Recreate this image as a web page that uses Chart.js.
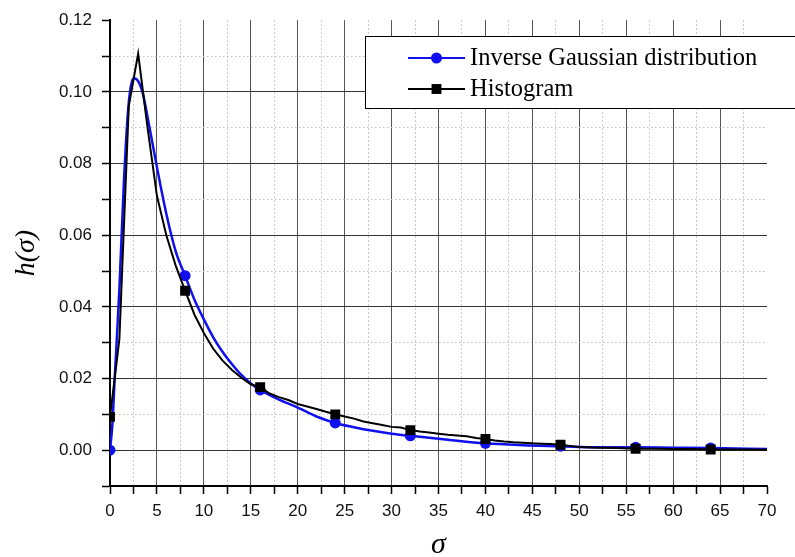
<!DOCTYPE html>
<html>
<head>
<meta charset="utf-8">
<script src="https://cdn.jsdelivr.net/npm/chart.js@4"></script>
<style>
  html, body { margin: 0; padding: 0; background: #fff; }
  #wrap { width: 795px; height: 557px; }
</style>
</head>
<body>
<div id="wrap"><canvas id="chart" width="795" height="557"></canvas></div>
<script>
// Inverse Gaussian fit (smooth curve)
const blueX = [0, 0.25, 0.5, 1, 1.5, 2, 2.5, 3, 3.5, 4, 5, 6, 7, 8, 9, 10, 11, 12, 13, 14,
  15, 16, 18, 20, 22, 24, 26, 28, 30, 32, 36, 40, 44, 48, 52, 56, 60, 64, 70];
const blueY = [0, 0.007, 0.02, 0.045, 0.076, 0.097, 0.1038, 0.103, 0.0995, 0.093, 0.079, 0.066, 0.0555, 0.0487, 0.042, 0.0365, 0.0315, 0.0274, 0.024, 0.021,
  0.0186, 0.0168, 0.0141, 0.0119, 0.0094, 0.0076, 0.0064, 0.0054, 0.0046, 0.0040, 0.0029, 0.0019, 0.0014, 0.0011, 0.0008, 0.0008, 0.0007, 0.0006, 0.0003];

// Histogram (polyline)
const blackX = [0, 1, 2, 3, 4, 5, 6, 7, 8, 9, 10, 11, 12, 13, 14, 15, 16, 17, 18, 19,
  20, 21, 22, 23, 24, 25, 26, 27, 28, 29, 30, 31, 32, 33, 34, 35, 36, 37, 38, 39,
  40, 41, 42, 43, 44, 45, 46, 47, 48, 49, 50, 52, 54, 56, 58, 60, 62, 64, 67, 70];
const blackY = [0.0093, 0.031, 0.096, 0.1107, 0.090, 0.071, 0.060, 0.0515, 0.0445, 0.0378, 0.0327, 0.0283, 0.0250, 0.0224, 0.0202, 0.0184, 0.0176, 0.0158, 0.0148, 0.0140,
  0.0129, 0.0122, 0.0115, 0.0107, 0.0100, 0.0094, 0.0088, 0.0080, 0.0075, 0.0070, 0.0065, 0.0063, 0.0056, 0.0052, 0.0049, 0.0046, 0.0043, 0.0041, 0.0039, 0.0034,
  0.0031, 0.0027, 0.0024, 0.0022, 0.0021, 0.0019, 0.0018, 0.0017, 0.0015, 0.0012, 0.0009, 0.0007, 0.0006, 0.0004, 0.0004, 0.0003, 0.0003, 0.0002, 0.0002, 0.0001];

// sigma values that carry a symbol
const markerX = [0, 8, 16, 24, 32, 40, 48, 56, 64];

const seriesNames = ["Inverse Gaussian distribution", "Histogram"];
const xTitle = "σ";
const yTitle = "h(σ)";

const BLUE = "#1010ee";
const BLACK = "#000000";

const toPoints = (xs, ys) => xs.map((x, i) => ({ x: x, y: ys[i] }));

// helpers for major / minor grid
const isMajorY = (v) => Math.round(v * 100) % 2 === 0;
const isMajorX = (v) => Math.round(v * 10) % 50 === 0;

// Legend drawn as a framed box like the original
const legendBox = {
  id: "legendBox",
  afterDraw(chart) {
    const c = chart.ctx;
    const left = 365, top = 36, h = 72;
    c.save();
    c.fillStyle = "#fff";
    c.fillRect(left, top, 800 - left, h);
    c.strokeStyle = "#000";
    c.lineWidth = 1;
    c.strokeRect(left + 0.5, top + 0.5, 800 - left, h);

    const rows = [
      { label: seriesNames[0], color: BLUE, style: "circle", r: 5.5, y: top + 22 },
      { label: seriesNames[1], color: BLACK, style: "rect", r: 7, y: top + 53 }
    ];
    rows.forEach((row) => {
      c.strokeStyle = row.color;
      c.lineWidth = 2;
      c.beginPath();
      c.moveTo(408, row.y);
      c.lineTo(465, row.y);
      c.stroke();
      c.fillStyle = row.color;
      Chart.helpers.drawPoint(c, { pointStyle: row.style, radius: row.r, borderWidth: 0 }, 436.5, row.y);
      c.fillStyle = "#000";
      c.font = '24.5px "Liberation Serif", "Times New Roman", serif';
      c.textBaseline = "middle";
      c.textAlign = "left";
      c.fillText(row.label, 470, row.y + 1);
    });
    c.restore();
  }
};

const tickFont = { family: '"Liberation Sans", Arial, sans-serif', size: 17 };

new Chart(document.getElementById("chart"), {
  type: "line",
  data: {
    datasets: [
      {
        label: seriesNames[0],
        data: toPoints(blueX, blueY),
        borderColor: BLUE,
        backgroundColor: BLUE,
        borderWidth: 2.5,
        cubicInterpolationMode: "monotone",
        pointStyle: "circle",
        pointRadius: (ctx) => (ctx.raw && markerX.includes(ctx.raw.x) ? 5.5 : 0),
        pointBorderWidth: 0,
        order: 2
      },
      {
        label: seriesNames[1],
        data: toPoints(blackX, blackY),
        borderColor: BLACK,
        backgroundColor: BLACK,
        borderWidth: 2,
        tension: 0,
        pointStyle: "rect",
        pointRadius: (ctx) => (ctx.raw && markerX.includes(ctx.raw.x) ? 7 : 0),
        pointBorderWidth: 0,
        order: 1
      }
    ]
  },
  options: {
    responsive: false,
    animation: false,
    events: [],
    layout: { padding: { left: 0, right: 28, top: 16, bottom: 0 } },
    plugins: {
      legend: { display: false },
      tooltip: { enabled: false }
    },
    scales: {
      x: {
        type: "linear",
        min: 0,
        max: 70,
        afterFit: (s) => { s.height = 71; },
        ticks: {
          stepSize: 2.5,
          autoSkip: false,
          maxRotation: 0,
          padding: 7,
          color: "#111",
          font: tickFont,
          callback: (v) => (isMajorX(v) ? String(v) : "")
        },
        grid: {
          color: (ctx) => {
            if (!ctx.tick) return "#000";
            const v = ctx.tick.value;
            if (v <= 0 || v >= 70) return "rgba(0,0,0,0)";
            return isMajorX(v) ? "#555" : "#bdbdbd";
          },
          lineWidth: 1,
          tickLength: 8,
          tickColor: "#000",
          tickWidth: 1.5
        },
        border: {
          color: "#000",
          width: 2,
          dash: (ctx) => (ctx.tick && !isMajorX(ctx.tick.value) ? [1.5, 2.5] : [])
        },
        title: {
          display: true,
          text: xTitle,
          color: "#000",
          font: { family: '"Liberation Serif", "Times New Roman", serif', size: 30, style: "italic", lineHeight: 0.8 },
          padding: { top: 0, bottom: 0 }
        }
      },
      y: {
        type: "linear",
        min: -0.01,
        max: 0.12,
        afterFit: (s) => { s.width = 110; },
        ticks: {
          stepSize: 0.01,
          autoSkip: false,
          padding: 10,
          color: "#111",
          font: tickFont,
          callback: (v) => (isMajorY(v) ? v.toFixed(2) : "")
        },
        grid: {
          color: (ctx) => {
            if (!ctx.tick) return "#000";
            const v = ctx.tick.value;
            if (v <= -0.0099 || v >= 0.1199) return "rgba(0,0,0,0)";
            return isMajorY(v) ? "#333" : "#bdbdbd";
          },
          lineWidth: 1,
          tickLength: 8,
          tickColor: "#000",
          tickWidth: 1.5
        },
        border: {
          color: "#000",
          width: 2,
          dash: (ctx) => (ctx.tick && !isMajorY(ctx.tick.value) ? [1.5, 2.5] : [])
        },
        title: {
          display: true,
          text: yTitle,
          color: "#000",
          font: { family: '"Liberation Serif", "Times New Roman", serif', size: 28, style: "italic", lineHeight: 1.2 },
          padding: { top: 10, bottom: 0 }
        }
      }
    }
  },
  plugins: [legendBox]
});
</script>
</body>
</html>
